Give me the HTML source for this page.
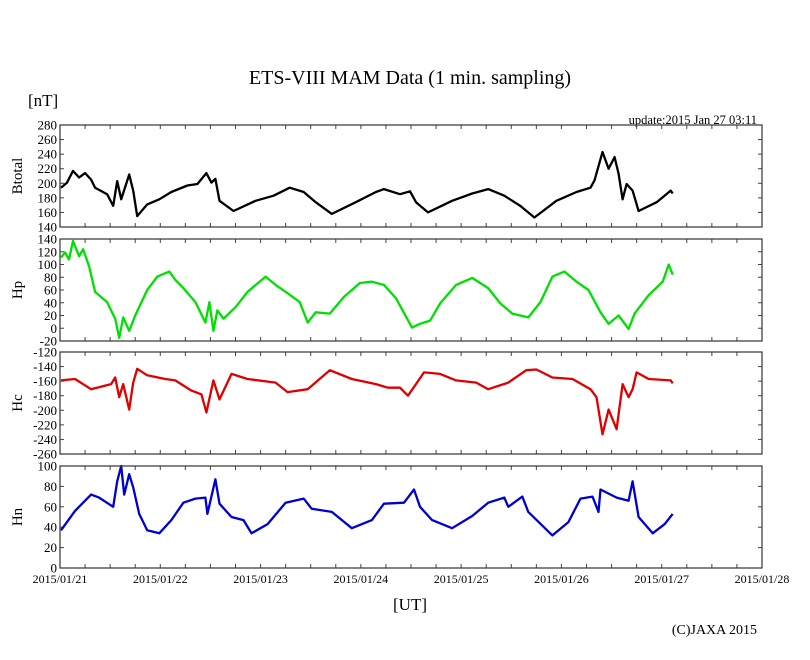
<!DOCTYPE html>
<html><head><meta charset="utf-8"><style>
body{margin:0;background:#fff}
svg text{font-family:"Liberation Serif",serif;fill:#000}
</style></head><body>
<svg id="c" width="810" height="655" xmlns="http://www.w3.org/2000/svg">
<text x="410" y="84" text-anchor="middle" font-size="20">ETS-VIII MAM Data (1 min. sampling)</text>
<text x="28" y="106" font-size="17">[nT]</text>
<text x="757" y="124" text-anchor="end" font-size="12.5">update:2015 Jan 27 03:11</text>
<text x="410" y="610" text-anchor="middle" font-size="17">[UT]</text>
<text x="757" y="634" text-anchor="end" font-size="14">(C)JAXA 2015</text>
<g id="plots"></g>
</svg>
<script>
const xDays=[0,1,2,3,4,5,6,7];
const xTickLabels=["2015/01/21","2015/01/22","2015/01/23","2015/01/24","2015/01/25","2015/01/26","2015/01/27","2015/01/28"];
const btT=[.01,.07,.13,.19,.25,.31,.35,.47,.53,.57,.61,.69,.73,.77,.87,.99,1.11,1.27,1.37,1.46,1.51,1.55,1.59,1.73,1.95,2.13,2.29,2.43,2.55,2.71,2.95,3.15,3.23,3.39,3.49,3.55,3.67,3.91,4.11,4.27,4.43,4.59,4.73,4.95,5.15,5.29,5.33,5.41,5.47,5.53,5.57,5.61,5.65,5.71,5.77,5.95,6.09,6.11];
const btV=[194,201,217,208,214,205,194,185,169,203,178,212,190,155,171,178,188,197,199,214,201,206,176,162,176,183,194,188,174,158,174,188,192,185,189,174,160,176,186,192,183,169,153,176,188,194,204,243,220,236,213,178,199,190,162,174,190,186];
const hpT=[.01,.05,.09,.13,.19,.23,.29,.35,.47,.55,.59,.63,.69,.75,.87,.97,1.09,1.15,1.23,1.35,1.45,1.49,1.53,1.57,1.63,1.75,1.87,2.05,2.15,2.27,2.39,2.47,2.55,2.69,2.83,2.99,3.11,3.23,3.35,3.51,3.59,3.69,3.79,3.95,4.11,4.27,4.39,4.51,4.67,4.79,4.91,5.03,5.15,5.27,5.39,5.47,5.57,5.67,5.73,5.87,6.01,6.07,6.11];
const hpV=[111,119,108,137,113,124,97,57,41,15,-15,17,-4,20,60,81,89,76,63,41,9,41,-4,28,15,33,57,81,68,55,41,9,25,23,49,71,73,68,47,1,7,12,39,68,79,63,39,23,17,41,81,89,73,60,25,7,20,-1,23,52,73,100,84];
const hcT=[.01,.15,.31,.51,.55,.59,.63,.69,.73,.77,.87,1.05,1.15,1.31,1.41,1.46,1.53,1.59,1.71,1.87,2.15,2.27,2.47,2.69,2.91,3.15,3.27,3.39,3.47,3.63,3.79,3.95,4.15,4.27,4.47,4.65,4.75,4.91,5.11,5.29,5.35,5.41,5.47,5.55,5.61,5.67,5.71,5.75,5.87,6.09,6.11];
const hcV=[-159,-157,-171,-164,-155,-182,-164,-199,-162,-143,-152,-157,-159,-173,-178,-203,-159,-185,-150,-157,-162,-175,-171,-145,-157,-164,-169,-169,-180,-148,-150,-159,-162,-171,-162,-145,-144,-155,-157,-171,-182,-233,-199,-226,-164,-182,-171,-148,-157,-159,-163];
const hnT=[.01,.15,.31,.39,.53,.57,.61,.64,.69,.73,.79,.87,.99,1.11,1.23,1.35,1.45,1.47,1.55,1.59,1.71,1.83,1.91,2.07,2.25,2.43,2.51,2.71,2.91,3.11,3.23,3.43,3.53,3.59,3.71,3.91,4.11,4.27,4.43,4.47,4.61,4.67,4.91,5.07,5.19,5.31,5.37,5.39,5.55,5.67,5.71,5.77,5.91,6.03,6.11];
const hnV=[37,56,72,69,60,85,100,72,92,79,53,37,34,47,64,68,69,53,87,63,50,47,34,43,64,68,58,55,39,47,63,64,77,60,47,39,51,64,69,60,70,55,32,45,68,70,55,77,69,66,85,50,34,43,53];
const panelNames=["Btotal","Hp","Hc","Hn"];
const panelMin=[140,-20,-260,0];
const panelMax=[280,140,-120,100];

const svg=document.getElementById('plots');
const NS='http://www.w3.org/2000/svg';
const L=60,R=762,W=R-L;
const tops=[125,239,352,466],H=102;
const colors=["#000","#00e000","#e00000","#0000d0"];
const series=[[btT,btV],[hpT,hpV],[hcT,hcV],[hnT,hnV]];
const keys=["btotal","hp","hc","hn"];
function xs(d){return L+d/7*W;}
function mk(tag,attrs){const e=document.createElementNS(NS,tag);for(const k in attrs)e.setAttribute(k,attrs[k]);return e;}
for(let p=0;p<4;p++){
  const top=tops[p],bot=top+H,mn=panelMin[p],mx=panelMax[p];
  const ys=v=>bot-(v-mn)/(mx-mn)*H;
  const g=mk('g',{});
  
  
  svg.appendChild(g);
  for(let i=1;i<28;i++){
    const x=xs(i/4);
    const t1=mk('line',{x1:x,x2:x,y1:bot,y2:bot-4,stroke:'#444','stroke-width':1});
    
    
    g.appendChild(t1);
    const t2=mk('line',{x1:x,x2:x,y1:top,y2:top+4,stroke:'#444','stroke-width':1});
    
    
    g.appendChild(t2);
  }
  for(let v=mn;v<=mx;v+=20){
    const y=ys(v);
    const a=mk('line',{x1:L,x2:L+4,y1:y,y2:y,stroke:'#444'});
    
    
    g.appendChild(a);
    const b=mk('line',{x1:R-4,x2:R,y1:y,y2:y,stroke:'#444'});
    
    
    g.appendChild(b);
    const t=mk('text',{x:L-3,y:y+4.5,'text-anchor':'end','font-size':13});
    t.textContent=String(v);
    
    
    g.appendChild(t);
  }
  const yl=mk('text',{x:0,y:0,'text-anchor':'middle','font-size':15,transform:`translate(22,${top+H/2}) rotate(-90)`});
  yl.textContent=panelNames[p];
  
  
  g.appendChild(yl);
  const [T,V]=series[p];
  const pts=T.map((d,i)=>xs(d).toFixed(1)+','+ys(V[i]).toFixed(1)).join(' ');
  const pl=mk('polyline',{points:pts,fill:'none',stroke:colors[p],'stroke-width':2.3,'stroke-linejoin':'round'});
  
  
  g.appendChild(pl);
  const fr=mk('rect',{x:L,y:top,width:W,height:H,fill:'none',stroke:'#333','stroke-width':1.2});
  
  
  g.appendChild(fr);
}
xDays.forEach((d,i)=>{
  const t=mk('text',{x:xs(d),y:583,'text-anchor':'middle','font-size':12});
  t.textContent=xTickLabels[i];
  
  
  svg.appendChild(t);
});
</script>
</body></html>
